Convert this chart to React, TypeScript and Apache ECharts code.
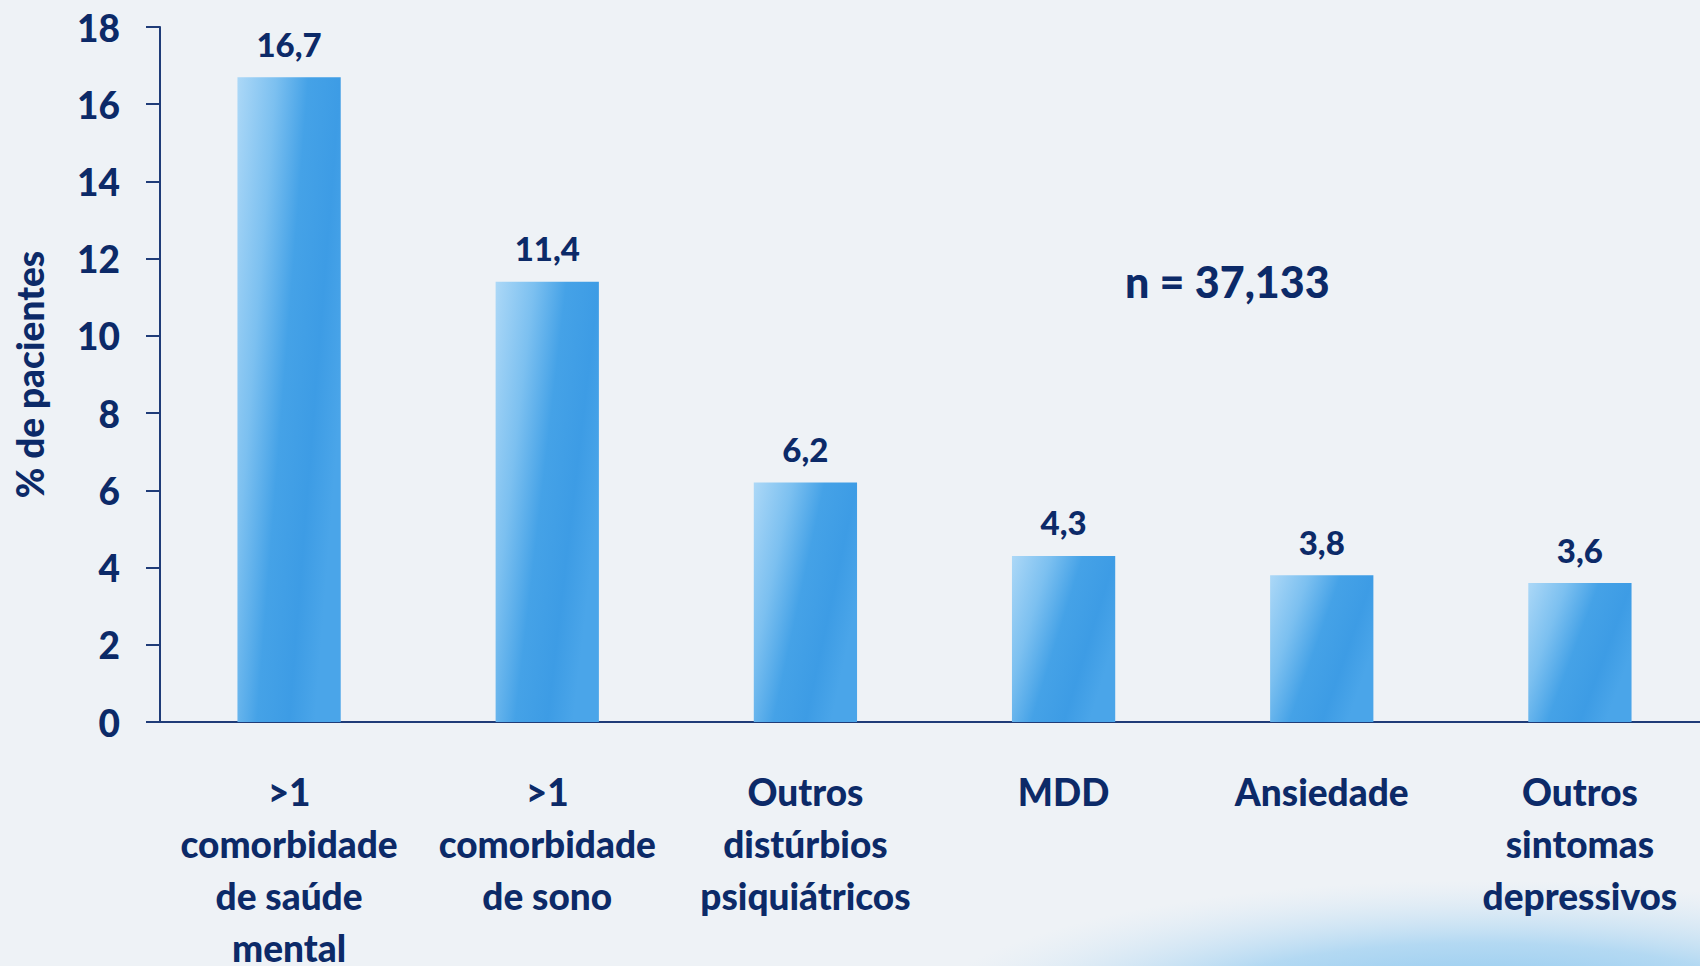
import React, { useEffect, useRef } from "react";
import * as echarts from "echarts";

const categories = [
  ">1\ncomorbidade\nde saúde\nmental",
  ">1\ncomorbidade\nde sono",
  "Outros\ndistúrbios\npsiquiátricos",
  "MDD",
  "Ansiedade",
  "Outros\nsintomas\ndepressivos",
];
const values = [16.7, 11.4, 6.2, 4.3, 3.8, 3.6];
const yTicks = { min: 0, max: 18, interval: 2 };
const yName = "% de pacientes";
const annotation = "n = 37,133";

const NAVY = "#0c2a68";
const FONT = "Lato, 'Noto Sans', sans-serif";

export default function App() {
  const ref = useRef<HTMLDivElement>(null);
  useEffect(() => {
    if (!ref.current) return;
    const chart = echarts.init(ref.current, undefined, { renderer: "svg" });
    const barFill = new echarts.graphic.LinearGradient(0, 0, 1, 0.5, [
      { offset: 0, color: "#acd8f7" },
      { offset: 0.3, color: "#7cc0f0" },
      { offset: 0.55, color: "#45a2e7" },
      { offset: 0.8, color: "#3d9ce5" },
      { offset: 1, color: "#4aa5e9" },
    ]);
    chart.setOption({
      animation: false,
      backgroundColor: "#eef2f6",
      textStyle: { fontFamily: FONT },
      grid: {
        left: 160,
        top: 27,
        width: 1549,
        height: 695,
        containLabel: false,
        outerBoundsMode: "none",
      },
      graphic: [
        {
          type: "ellipse",
          silent: true,
          z: -10,
          shape: { cx: 1480, cy: 1020, rx: 560, ry: 140 },
          style: {
            fill: new echarts.graphic.RadialGradient(0.5, 0.5, 0.5, [
              { offset: 0, color: "rgba(100,180,235,0.85)" },
              { offset: 0.55, color: "rgba(140,200,240,0.6)" },
              { offset: 1, color: "rgba(200,225,245,0)" },
            ]),
          },
        },
        {
          type: "text",
          left: 1125,
          top: 260,
          style: {
            text: annotation,
            fill: NAVY,
            font: `900 43px ${FONT}`,
          },
        },
      ],
      xAxis: {
        type: "category",
        data: categories,
        axisLine: { lineStyle: { color: "#1f3c78", width: 2 } },
        axisTick: { length: 14, lineStyle: { color: "#1f3c78", width: 2 } },
        axisLabel: {
          interval: 0,
          margin: 43,
          color: NAVY,
          fontSize: 37,
          fontWeight: 900,
          fontFamily: FONT,
          lineHeight: 52,
          verticalAlign: "top",
        },
      },
      yAxis: {
        type: "value",
        min: yTicks.min,
        max: yTicks.max,
        interval: yTicks.interval,
        name: yName,
        nameLocation: "middle",
        nameGap: 112,
        nameTextStyle: {
          color: NAVY,
          fontSize: 37,
          fontWeight: 900,
          fontFamily: FONT,
        },
        splitLine: { show: false },
        axisLine: { show: true, lineStyle: { color: "#1f3c78", width: 2 } },
        axisTick: { show: true, length: 14, lineStyle: { color: "#1f3c78", width: 2 } },
        axisLabel: {
          margin: 40,
          color: NAVY,
          fontSize: 37,
          fontWeight: 900,
          fontFamily: FONT,
        },
      },
      series: [
        {
          type: "bar",
          data: values,
          barWidth: "40%",
          itemStyle: { color: barFill },
          label: {
            show: true,
            position: "top",
            distance: 17,
            color: NAVY,
            fontSize: 33,
            fontWeight: 900,
            fontFamily: FONT,
            formatter: (p: any) => String(p.value).replace(".", ","),
          },
        },
      ],
    });
    return () => chart.dispose();
  }, []);
  return (
    <div
      ref={ref}
      style={{ position: "fixed", left: 0, top: 0, width: 1700, height: 966 }}
    />
  );
}
